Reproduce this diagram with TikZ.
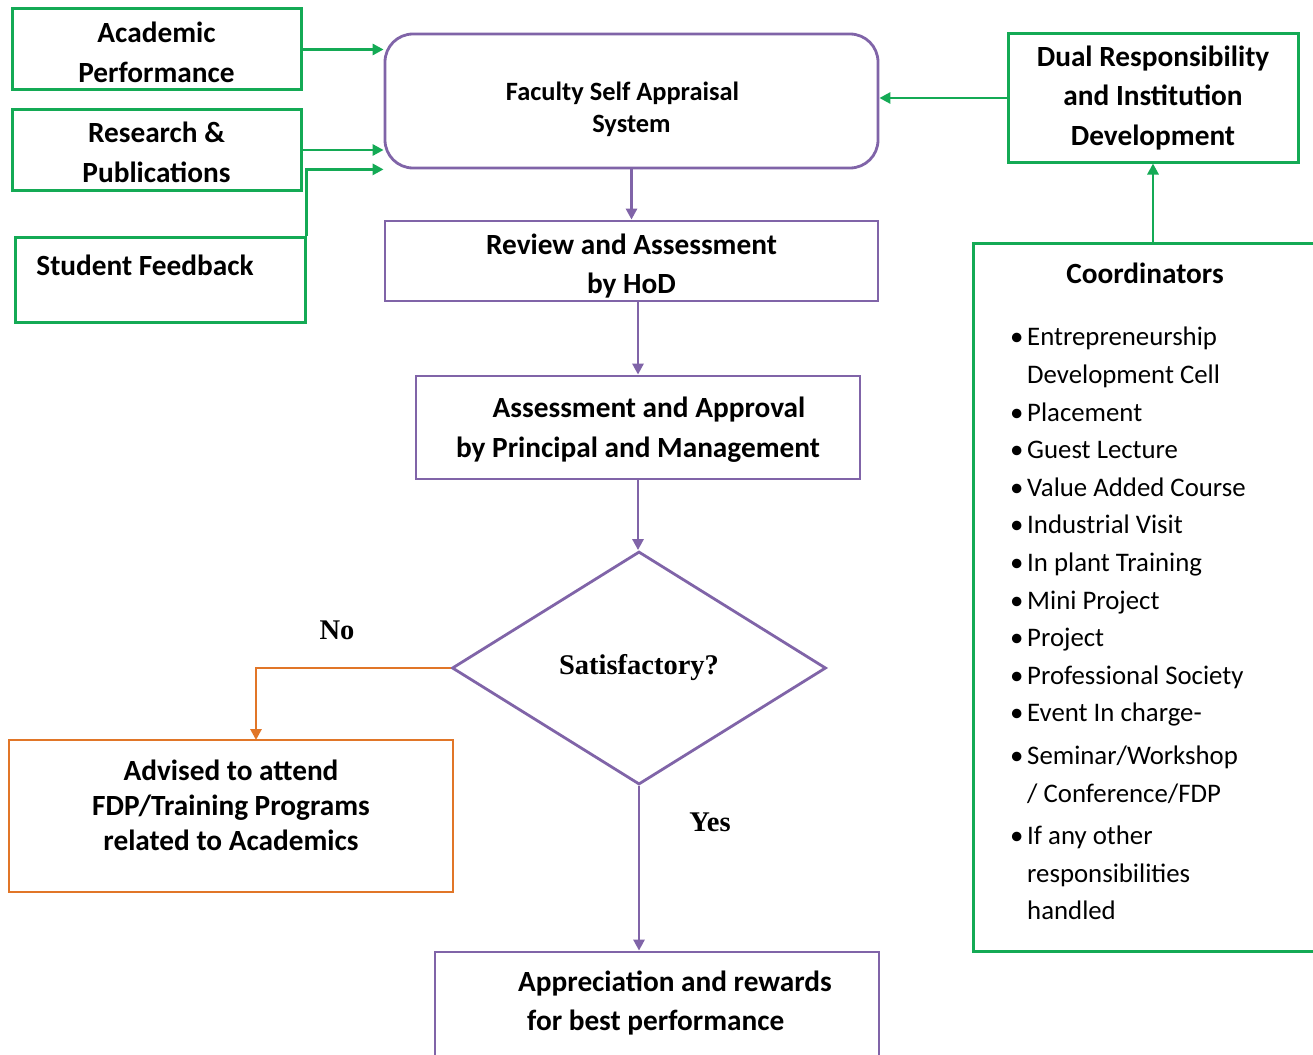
\documentclass[tikz,border=0pt]{standalone}
\usepackage{fontspec}
\setmainfont{Carlito}
\newfontfamily\tnr{Liberation Serif}
\usetikzlibrary{arrows.meta,shapes.geometric}
\definecolor{grn}{RGB}{20,170,85}
\definecolor{pur}{RGB}{128,100,168}
\definecolor{org}{RGB}{225,118,40}
\begin{document}
\begin{tikzpicture}[x=1pt,y=-1pt,
  btext/.style={font=\fontsize{29.3}{39.5}\selectfont\bfseries},
  gbox/.style={draw=grn,line width=3pt,inner sep=0pt,align=center,btext},
  pbox/.style={draw=pur,line width=2.8pt,inner sep=0pt,align=center,btext},
  obox/.style={draw=org,line width=2.8pt,inner sep=0pt,align=center,btext},
  tip/.style={-{Triangle[length=11pt,width=11pt]}},
  garr/.style={draw=grn,line width=2.9pt,tip},
  parr/.style={draw=pur,line width=2.9pt,tip},
  oarr/.style={draw=org,line width=2.9pt,tip},
  yn/.style={font=\fontsize{28.5}{32}\selectfont\tnr\bfseries,inner sep=0pt},
  listtext/.style={font=\fontsize{26.8}{37.6}\selectfont,align=left,inner sep=0pt}
]
\useasboundingbox[fill=white] (0,0) rectangle (1313,1054);

% left input boxes
\node[gbox,minimum width=289pt,minimum height=81pt] (ap) at (156.5,49.5) {\mbox{}\\[-13.5pt]Academic\\Performance};
\node[gbox,minimum width=289pt,minimum height=80pt] (rp) at (156.5,150) {\mbox{}\\[-14pt]Research \&\\Publications};
\node[gbox,minimum width=290pt,minimum height=85pt,text height=20pt,text depth=29pt] (sf) at (160,279.5) {Student Feedback\hspace*{30pt}};

% main flow
\node[pbox,rounded corners=28pt,minimum width=493pt,minimum height=134pt,
      font=\fontsize{26.4}{32}\selectfont\bfseries] (fs) at (631.5,101) {\mbox{}\\[3pt]Faculty Self Appraisal\hspace*{18pt}\mbox{}\\System};
\node[pbox,minimum width=493pt,minimum height=80pt] (rv) at (631.5,261) {\mbox{}\\[-8.5pt]Review and Assessment\\by HoD};
\node[pbox,minimum width=444pt,minimum height=103pt] (aa) at (638,427.5) {\mbox{}\\[-14.5pt]\hspace*{22pt}Assessment and Approval\\by Principal and Management};
\node[draw=pur,line width=2.8pt,diamond,minimum width=374pt,minimum height=233pt,inner sep=0pt,
      font=\fontsize{28.5}{32}\selectfont\tnr\bfseries] (dm) at (639,668) {Satisfactory?};
\node[obox,minimum width=444pt,minimum height=152pt,font=\fontsize{29.3}{35}\selectfont\bfseries] (adv) at (231,816)
  {Advised to attend\\FDP/Training Programs\\related to Academics\\[-14pt]\mbox{}};
\node[pbox,minimum width=444pt,minimum height=120pt,align=left] (apr) at (657,1012)
  {\mbox{}\\[-16pt]\hspace*{36pt}Appreciation and rewards\\\hspace*{45pt}for best performance\\[-14pt]\mbox{}};

% right boxes
\node[gbox,minimum width=290pt,minimum height=128pt] (dr) at (1153,98) {Dual Responsibility\\and Institution\\Development};
\node[draw=grn,line width=3pt,minimum width=360pt,minimum height=708pt,inner sep=0pt] (co) at (1153,597) {};
\node[btext,inner sep=0pt] (cot) at (1145,273) {Coordinators};
\node[listtext,anchor=north west] (col) at (1010,327) {%
\makebox[17pt][l]{•}Entrepreneurship\\
\hspace*{17pt}Development Cell\\
\makebox[17pt][l]{•}Placement\\
\makebox[17pt][l]{•}Guest Lecture\\
\makebox[17pt][l]{•}Value Added Course\\
\makebox[17pt][l]{•}Industrial Visit\\
\makebox[17pt][l]{•}In plant Training\\
\makebox[17pt][l]{•}Mini Project\\
\makebox[17pt][l]{•}Project\\
\makebox[17pt][l]{•}Professional Society\\
\makebox[17pt][l]{•}Event In charge-\\[5pt]
\makebox[17pt][l]{•}Seminar/Workshop\\
\hspace*{17pt}/ Conference/FDP\\[5pt]
\makebox[17pt][l]{•}If any other\\
\hspace*{17pt}responsibilities\\
\hspace*{17pt}handled};

% labels
\node[yn] (no) at (337,630) {No};
\node[yn] (yes) at (710,822) {Yes};

% connectors
\draw[garr] (ap.east) -- (ap.east -| fs.west);
\draw[garr] (rp.east) -- (rp.east -| fs.west);
\draw[garr] (sf.north east) |- (fs.south west);
\draw[garr] (dr.west) -- (dr.west -| fs.east);
\draw[garr] (co.north -| dr.south) -- (dr.south);
\draw[parr] (fs.south) -- (rv.north);
\draw[parr] (aa.north |- rv.south) -- (aa.north);
\draw[parr] (aa.south) -- (aa.south |- dm.north);
\coordinate (noend) at (256,740);
\draw[oarr] (dm.west) -| (noend);
\draw[parr] (dm.south) -- (dm.south |- apr.north);
\end{tikzpicture}
\end{document}
